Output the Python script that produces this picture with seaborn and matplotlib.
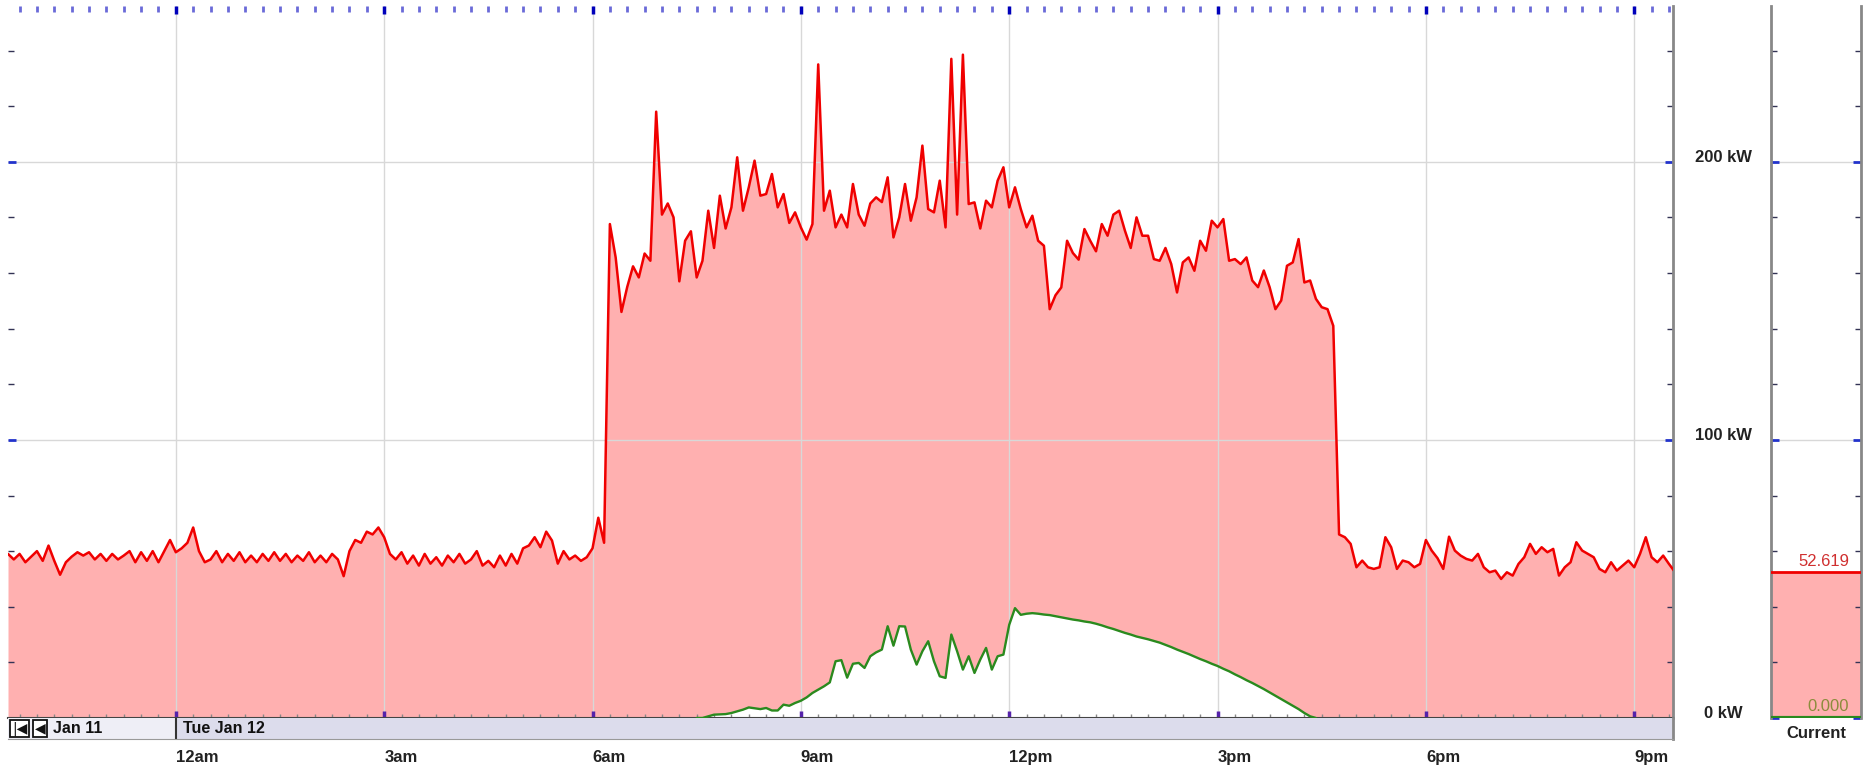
import numpy as np
import pandas as pd
import matplotlib
matplotlib.use("Agg")
import matplotlib.pyplot as plt
from matplotlib.ticker import MultipleLocator, FixedLocator, FuncFormatter, NullFormatter
import seaborn as sns

#  Data: 5-minute readings (kW), Mon Jan 11 21:35 -> Tue Jan 12 21:35
load_before_midnight = [59, 57, 59, 56, 58, 60, 56.5, 62, 56.5, 51.5, 56, 58, 59.6, 58.4, 59.6,
                        57, 59, 56.5, 59, 57, 58.4, 60, 56, 59.6, 56.5, 60, 56, 60, 64]
# 00:00 -> 06:10
load_night = [59.6,
              61, 63, 68.5, 60, 56, 57, 60, 56, 59, 56.5, 59.6, 56,
              58.4, 56, 59, 56.5, 59.6, 56.5, 59, 56, 58.4, 56.5, 59.6, 56,
              58.4, 56, 59, 57, 51, 60, 64, 63, 67, 66, 68.5, 65,
              59, 57, 59.6, 55.5, 58.4, 54.8, 59, 55.5, 57.8, 54.8, 58.4, 56,
              59, 55.5, 57, 60, 54.8, 56.5, 54.2, 58.4, 54.8, 59, 55.5, 61,
              62, 65, 61.4, 67, 63.8, 55.5, 60, 57, 58.4, 56.5, 57.8, 61,
              72, 63]
# 06:15 -> 10:35
load_morning = [177.6, 165.6, 146, 155, 162.4, 158.4, 167, 164.4, 218, 181,
                185, 180, 157, 171.6, 175, 158.4, 164.4, 182.4, 169, 187.8,
                176, 183.6, 201.6, 182.4, 190.8, 200.4, 187.8, 188.4, 195.6, 183.6,
                188.4, 178, 181.8, 176.4, 172, 177.6, 235, 182.4, 189.6, 176.4,
                181, 176.4, 192, 181, 177, 185, 187.2, 185.5, 194.4, 172.8,
                180, 192, 178.8]
# 10:40 -> 21:35
load_afternoon = [187.2, 205.8, 183, 181.8, 193.2, 176.4, 237, 181, 238.5, 184.8,
                  185.4, 176, 186, 183.6, 193.2, 198, 183.6, 190.8, 183, 176.4,
                  180.6, 171.6, 169.8, 147, 152, 154.8, 171.6, 167.2, 164.8, 175.8,
                  171.6, 167.8, 177.6, 173.4, 181, 182.4, 175.2, 169, 180, 173.4,
                  173.4, 165, 164.4, 169, 163.2, 153, 163.8, 165.6, 160.8, 171.6,
                  168, 178.8, 176.4, 179.4, 164.4, 165, 163.2, 165.6, 157.3, 154.9,
                  160.9, 154.9, 147, 150.1, 162.6, 163.8, 172.2, 156.6, 157.3, 150.7,
                  147.7, 147, 141, 66, 65, 62.6, 54.2, 56.6, 54.2, 53.6,
                  54.2, 65, 61.4, 53.6, 56.6, 56, 54.2, 55.4, 64, 60.2,
                  57.5, 53.6, 65.2, 60.2, 58.4, 57.2, 56.6, 59, 54.2, 52.4,
                  53, 50, 52.4, 51.2, 55.4, 57.8, 62.6, 59, 61.4, 59.6,
                  60.8, 51.2, 54.2, 56, 63.2, 60.2, 59, 57.8, 53.6, 52.4,
                  56, 53, 54.8, 56.6, 54.2, 59, 65, 57.8, 56, 58.4,
                  55.4, 52.6]
# solar generation, 07:30 -> 16:25
solar_kw = [0, 0, 0.6, 1.2, 1.3, 1.4, 1.8, 2.4, 3.0, 3.8,
            3.5, 3.2, 3.6, 2.7, 2.7, 4.8, 4.4, 5.4, 6.2, 7.4,
            9.0, 10.2, 11.4, 12.8, 20.4, 20.8, 14.5, 19.5, 19.8, 18.0,
            22.2, 23.6, 24.6, 33, 26, 33, 32.9, 24.6, 19.2, 24,
            27.6, 20.4, 15, 14.4, 30, 24, 17.4, 22.2, 16.2, 21,
            25.2, 17.4, 22.2, 22.8, 33.5, 39.5, 37.1, 37.5, 37.7, 37.5,
            37.2, 37.0, 36.6, 36.2, 35.8, 35.4, 35.1, 34.7, 34.4, 33.9,
            33.3, 32.6, 32.0, 31.3, 30.6, 30.0, 29.3, 28.8, 28.3, 27.7,
            27.1, 26.3, 25.5, 24.6, 23.8, 23.0, 22.1, 21.2, 20.4, 19.5,
            18.7, 17.7, 16.8, 15.7, 14.7, 13.6, 12.6, 11.5, 10.4, 9.2,
            8.0, 6.8, 5.6, 4.4, 3.2, 1.8, 0.6, 0]
current_load = 52.619
current_solar = 0.000
y_ticks = [0, 100, 200]
y_labels = ["0 kW", "100 kW", "200 kW"]

load = load_before_midnight + load_night + load_morning + load_afternoon
df = pd.DataFrame({"time": pd.date_range("2021-01-11 21:35", periods=len(load), freq="5min"),
                   "load": load})
df_solar = pd.DataFrame({"time": pd.date_range("2021-01-12 07:30", periods=len(solar_kw), freq="5min"),
                         "solar": solar_kw})

PINK = "#ffb0b0"
RED = "#f00000"
GREEN = "#2a8a1e"

sns.set_style("white")
plt.rcParams["font.family"] = ["Liberation Sans", "DejaVu Sans"]

W, H = 1874, 767
fig = plt.figure(figsize=(W / 100, H / 100), dpi=100)
ax = fig.add_axes([8 / W, 49 / H, 1665 / W, 712 / H])
ax_bar = fig.add_axes([8 / W, 28 / H, 1665 / W, 21 / H])
ax_cur = fig.add_axes([1771 / W, 49 / H, 90 / W, 712 / H])

#  Main chart
ax.fill_between(df["time"], df["load"], color=PINK, lw=0, zorder=1)
ax.fill_between(df_solar["time"], df_solar["solar"], color="white", lw=0, zorder=1.1)
sns.lineplot(data=df, x="time", y="load", color=RED, lw=1.8, ax=ax, zorder=3)
sns.lineplot(data=df_solar, x="time", y="solar", color=GREEN, lw=1.7, ax=ax, zorder=3)

x0 = pd.Timestamp("2021-01-11 21:35")
x1 = pd.Timestamp("2021-01-12 21:33:30")
midnight = pd.Timestamp("2021-01-12 00:00")
ax.set_xlim(x0, x1)
xlim = ax.get_xlim()
ax.set_ylim(0, 256)
ax.set_xlabel("")
ax.set_ylabel("")
ax.set_axisbelow("line")
ax.grid(True, which="major", color="#d8d8d8", lw=1)

ax.xaxis.set_major_locator(MultipleLocator(0.125))
ax.xaxis.set_minor_locator(MultipleLocator(1 / 96))
ax.xaxis.set_major_formatter(NullFormatter())
ax.yaxis.set_major_locator(FixedLocator(y_ticks))
ax.yaxis.set_minor_locator(MultipleLocator(20))
ax.tick_params(axis="x", which="both", bottom=True, top=False, direction="in", labelbottom=False)
ax.tick_params(axis="x", which="major", length=5, width=2.5, color="#5522aa")
ax.tick_params(axis="x", which="minor", length=3, width=1, color="#888888")
ax.tick_params(axis="y", which="both", left=True, right=True, direction="in",
               labelleft=False, labelright=False)
ax.tick_params(axis="y", which="major", length=6, width=2, color="#2233cc")
ax.tick_params(axis="y", which="minor", length=4, width=1, color="#333355")
for s in ["top", "left"]:
    ax.spines[s].set_visible(False)
ax.spines["right"].set_color("#888888")
ax.spines["right"].set_linewidth(2)
ax.spines["bottom"].set_color("#444444")
ax.spines["bottom"].set_linewidth(1.5)

# top edge ticks
ax_top = ax.twiny()
ax_top.set_xlim(xlim)
ax_top.xaxis.set_major_locator(MultipleLocator(0.125))
ax_top.xaxis.set_minor_locator(MultipleLocator(1 / 96))
ax_top.tick_params(axis="x", which="both", top=True, bottom=False, direction="in", labeltop=False)
ax_top.tick_params(axis="x", which="major", length=6, width=2.5, color="#0000bb")
ax_top.tick_params(axis="x", which="minor", length=4, width=2, color="#6a6ad8")
for s in ax_top.spines.values():
    s.set_visible(False)

# kW labels between the chart and the current panel
for v, lab in zip(y_ticks, y_labels):
    ax.annotate(lab, xy=(1.0303, v), xycoords=("axes fraction", "data"), xytext=(0, 4),
                textcoords="offset pixels", ha="center", va="center",
                fontsize=12, fontweight="bold", color="#222222", annotation_clip=False)

#  Date bar with hour labels
ax_bar.set_xlim(xlim)
ax_bar.set_ylim(0, 1)
ax_bar.axvspan(x0, midnight, color="#eeeef6", lw=0)
ax_bar.axvspan(midnight, x1, color="#dcdcec", lw=0)
ax_bar.axvline(midnight, color="#333333", lw=1.5)
ax_bar.set_yticks([])
ax_bar.xaxis.set_major_locator(MultipleLocator(0.125))


def hour_label(x, pos):
    h = int(round((x % 1) * 24)) % 24
    return f"{h % 12 or 12}{'am' if h < 12 else 'pm'}"


ax_bar.xaxis.set_major_formatter(FuncFormatter(hour_label))
ax_bar.tick_params(axis="x", length=0, pad=8, labelsize=12, labelcolor="#222222")
plt.setp(ax_bar.get_xticklabels(), ha="left", fontweight="bold")
for s in ["top", "left"]:
    ax_bar.spines[s].set_visible(False)
ax_bar.spines["bottom"].set_color("#999999")
ax_bar.spines["right"].set_color("#888888")
ax_bar.spines["right"].set_linewidth(2)

ax_bar.annotate("Tue Jan 12", xy=(midnight, 0.5), xycoords=("data", "axes fraction"),
                xytext=(7, 0), textcoords="offset pixels", ha="left", va="center",
                fontsize=11.5, fontweight="bold", color="#111111")
ax_bar.annotate("Jan 11", xy=(0, 0.5), xycoords="axes fraction",
                xytext=(45, 0), textcoords="offset pixels", ha="left", va="center",
                fontsize=11.5, fontweight="bold", color="#111111")
for off, sym in [(4, "|◀"), (27, "◀")]:
    ax_bar.annotate(sym, xy=(0, 0.5), xycoords="axes fraction", xytext=(off, 0),
                    textcoords="offset pixels", ha="left", va="center", fontsize=10,
                    family=["DejaVu Sans"], color="#111111",
                    bbox=dict(boxstyle="square,pad=0.12", fc="white", ec="#111111", lw=1.3))

#  Current panel
sns.barplot(x=["Current"], y=[current_load], color=PINK, width=1, saturation=1,
            lw=0, ax=ax_cur)
ax_cur.set_xlim(-0.5, 0.5)
ax_cur.set_ylim(0, 256)
ax_cur.set_xlabel("")
ax_cur.set_ylabel("")
ax_cur.set_axisbelow("line")
ax_cur.axhline(current_load, color=RED, lw=2, zorder=3)
ax_cur.axhline(current_solar, color=GREEN, lw=3, zorder=3)
ax_cur.yaxis.set_major_locator(FixedLocator(y_ticks))
ax_cur.yaxis.set_minor_locator(MultipleLocator(20))
ax_cur.grid(True, axis="y", which="major", color="#d8d8d8", lw=1)
ax_cur.tick_params(axis="y", which="both", left=True, right=True, direction="in",
                   labelleft=False, labelright=False)
ax_cur.tick_params(axis="y", which="major", length=6, width=2, color="#2233cc")
ax_cur.tick_params(axis="y", which="minor", length=4, width=1, color="#333355")
ax_cur.tick_params(axis="x", length=0, pad=6, labelsize=12, labelcolor="#222222")
plt.setp(ax_cur.get_xticklabels(), fontweight="bold")
for s in ["top", "bottom"]:
    ax_cur.spines[s].set_visible(False)
for s in ["left", "right"]:
    ax_cur.spines[s].set_color("#888888")
    ax_cur.spines[s].set_linewidth(2)

ax_cur.annotate(f"{current_load:.3f}", xy=(0.87, current_load), xycoords=("axes fraction", "data"),
                xytext=(0, 3), textcoords="offset pixels", ha="right", va="bottom",
                fontsize=12, color="#d03030")
ax_cur.annotate(f"{current_solar:.3f}", xy=(0.87, current_solar), xycoords=("axes fraction", "data"),
                xytext=(0, 4), textcoords="offset pixels", ha="right", va="bottom",
                fontsize=12, color="#8c8c3c")

fig.savefig("out.png", dpi=100, facecolor="white")
